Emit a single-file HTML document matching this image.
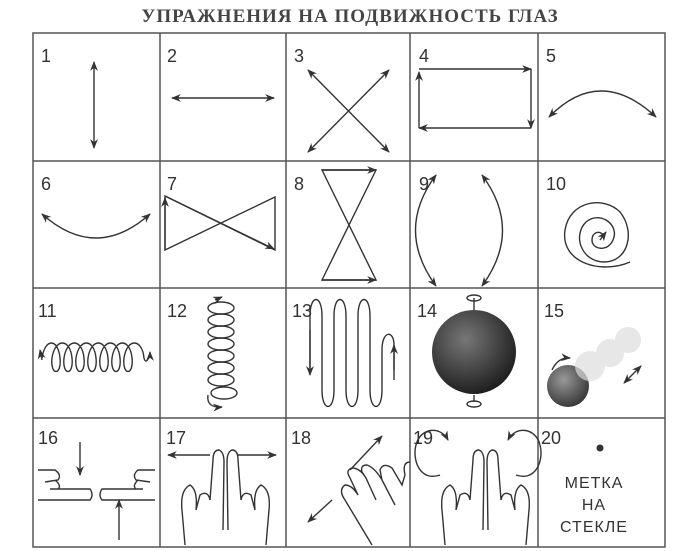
<!DOCTYPE html>
<html><head><meta charset="utf-8"><style>
html,body{margin:0;padding:0;background:#fff;}
svg{display:block;}
</style></head><body>
<svg width="700" height="551" viewBox="0 0 700 551" xmlns="http://www.w3.org/2000/svg">
<defs>
<marker id="a" viewBox="0 0 10 10" refX="9" refY="5" markerWidth="7" markerHeight="7" orient="auto-start-reverse"><path d="M0,1 L10,5 L0,9 L3,5 Z" fill="#333"/></marker>
<radialGradient id="g" cx="0.4" cy="0.35" r="0.7"><stop offset="0" stop-color="#777"/><stop offset="1" stop-color="#1a1a1a"/></radialGradient>
<radialGradient id="g2" cx="0.4" cy="0.35" r="0.7"><stop offset="0" stop-color="#999"/><stop offset="1" stop-color="#333"/></radialGradient>
</defs>
<text x="350" y="22" text-anchor="middle" font-family="Liberation Serif, serif" font-weight="bold" font-size="19" fill="#444" letter-spacing="1">УПРАЖНЕНИЯ НА ПОДВИЖНОСТЬ ГЛАЗ</text>
<g stroke="#555" stroke-width="1.5" fill="none">
<rect x="33" y="33" width="632" height="514"/>
<line x1="160" y1="33" x2="160" y2="547"/><line x1="286" y1="33" x2="286" y2="547"/>
<line x1="410" y1="33" x2="410" y2="547"/><line x1="538" y1="33" x2="538" y2="547"/>
<line x1="33" y1="161" x2="665" y2="161"/><line x1="33" y1="288" x2="665" y2="288"/>
<line x1="33" y1="418" x2="665" y2="418"/>
</g>
<g font-family="Liberation Sans, sans-serif" font-size="18" fill="#333">
<text x="41" y="62">1</text><text x="167" y="62">2</text><text x="294" y="62">3</text><text x="419" y="62">4</text><text x="546" y="62">5</text>
<text x="41" y="190">6</text><text x="167" y="190">7</text><text x="294" y="190">8</text><text x="419" y="190">9</text><text x="546" y="190">10</text>
<text x="38" y="317">11</text><text x="167" y="317">12</text><text x="292" y="317">13</text><text x="417" y="317">14</text><text x="544" y="317">15</text>
<text x="38" y="444">16</text><text x="166" y="444">17</text><text x="291" y="444">18</text><text x="413" y="444">19</text><text x="541" y="444">20</text>
</g>
<g stroke="#333" stroke-width="1.4" fill="none">
<line x1="94" y1="62" x2="94" y2="148" marker-start="url(#a)" marker-end="url(#a)"/>
<line x1="172" y1="98" x2="274" y2="98" marker-start="url(#a)" marker-end="url(#a)"/>
<line x1="308" y1="70" x2="389" y2="152" marker-start="url(#a)" marker-end="url(#a)"/>
<line x1="389" y1="70" x2="308" y2="152" marker-start="url(#a)" marker-end="url(#a)"/>
<line x1="419" y1="69" x2="531" y2="69" marker-end="url(#a)"/>
<line x1="531" y1="69" x2="531" y2="128" marker-end="url(#a)"/>
<line x1="531" y1="128" x2="419" y2="128" marker-end="url(#a)"/>
<line x1="419" y1="128" x2="419" y2="72" marker-end="url(#a)"/>
<path d="M549,117 Q600,65 656,117" marker-start="url(#a)" marker-end="url(#a)"/>
<path d="M42,214 Q96,262 150,214" marker-start="url(#a)" marker-end="url(#a)"/>
<path d="M165,196 L275,250 L275,197 L165,250 Z"/>
<line x1="165" y1="250" x2="165" y2="198" marker-end="url(#a)"/><line x1="165" y1="196" x2="274" y2="249" marker-end="url(#a)"/>
<path d="M322,170 L376,170 L322,280 L376,280 Z"/>
<line x1="322" y1="170" x2="376" y2="170" marker-end="url(#a)"/><line x1="322" y1="280" x2="376" y2="280" marker-end="url(#a)"/>
<path d="M436,175 Q395,230 436,286" marker-start="url(#a)" marker-end="url(#a)"/>
<path d="M482,175 Q523,230 482,286" marker-start="url(#a)" marker-end="url(#a)"/>
<path d="M603,235 C600,230 592,232 592,240 C592,250 608,252 613,240 C620,225 600,210 586,222 C572,236 582,262 604,262 C628,262 636,232 620,212 C604,196 570,200 565,230 C560,262 600,275 630,262" />
<line x1="600" y1="240" x2="606" y2="232" marker-end="url(#a)"/>
<path d="M42,358 C45,338 58,338 60,358 C62,376 50,376 52,358 C55,338 70,338 72,358 C74,376 62,376 64,358 C67,338 82,338 84,358 C86,376 74,376 76,358 C79,338 94,338 96,358 C98,376 86,376 88,358 C91,338 106,338 108,358 C110,376 98,376 100,358 C103,338 118,338 120,358 C122,376 110,376 112,358 C115,338 130,338 132,358 C134,376 122,376 124,358 C127,338 142,338 144,358 C146,366 150,356 150,352" marker-end="url(#a)"/>
<line x1="42" y1="360" x2="40" y2="350" marker-end="url(#a)"/>
<g>
<ellipse cx="221" cy="308" rx="13" ry="6"/><ellipse cx="221" cy="320" rx="13" ry="6"/><ellipse cx="221" cy="332" rx="13" ry="6"/><ellipse cx="221" cy="344" rx="13" ry="6"/><ellipse cx="221" cy="356" rx="13" ry="6"/><ellipse cx="221" cy="368" rx="13" ry="6"/><ellipse cx="221" cy="380" rx="13" ry="6"/><ellipse cx="224" cy="393" rx="13" ry="6"/>
<path d="M208,395 Q206,408 222,407" marker-end="url(#a)"/>
<line x1="215" y1="300" x2="222" y2="297" marker-end="url(#a)"/>
</g>
<path d="M310,316 L310,368 M310,316 C310,294 322,294 322,316 L322,390 C322,412 334,412 334,390 L334,316 C334,294 346,294 346,316 L346,390 C346,412 358,412 358,390 L358,316 C358,294 370,294 370,316 L370,390 C370,412 382,412 382,390 L382,350 C382,330 394,330 394,345 L394,380"/>
<line x1="310" y1="330" x2="310" y2="375" marker-end="url(#a)"/>
<line x1="394" y1="370" x2="394" y2="345" marker-end="url(#a)"/>
<line x1="474" y1="298" x2="474" y2="310"/><line x1="474" y1="395" x2="474" y2="402"/>
<ellipse cx="474" cy="298" rx="7" ry="3"/><ellipse cx="474" cy="404" rx="7" ry="3"/>
<path d="M552,370 Q558,357 570,358" marker-end="url(#a)"/>
<line x1="624" y1="383" x2="641" y2="366" marker-start="url(#a)" marker-end="url(#a)"/>
<line x1="80" y1="442" x2="80" y2="475" marker-end="url(#a)"/>
<line x1="119" y1="540" x2="119" y2="500" marker-end="url(#a)"/>
<path d="M38,500 L90,500 Q94,495 90,489 L50,489 M38,470 L55,470 Q62,475 58,480 L45,482 M55,480 Q62,486 58,489"/>
<path d="M155,500 L102,500 Q98,495 102,489 L143,489 M155,470 L138,470 Q132,475 136,480 L150,482 M138,480 Q132,486 136,489"/>
<line x1="210" y1="455" x2="168" y2="455" marker-end="url(#a)"/>
<line x1="238" y1="455" x2="276" y2="455" marker-end="url(#a)"/>
<path d="M185,545 L182,510 Q180,490 190,485 Q198,490 196,510 L200,495 Q208,490 210,500 L213,460 Q213,450 219,450 Q224,452 224,462 L223,530 M228,530 L227,462 Q227,452 232,450 Q238,450 238,460 L241,500 Q243,490 251,495 L255,510 Q253,490 261,485 Q271,490 269,510 L266,545"/>
<line x1="350" y1="470" x2="382" y2="436" marker-end="url(#a)"/>
<line x1="332" y1="500" x2="308" y2="522" marker-end="url(#a)"/>
<path d="M372,545 L345,500 Q338,490 345,485 Q352,485 358,495 L350,478 Q345,470 352,468 Q360,468 366,478 L376,500 M366,478 L362,472 Q360,465 367,465 Q375,468 382,480 L395,505 M382,480 L380,470 Q383,462 392,468 L402,485 L405,475 Q402,462 410,462"/>
<path d="M440,475 C420,482 412,460 416,445 C420,428 440,425 448,440" marker-end="url(#a)"/>
<path d="M516,475 C536,482 544,460 540,445 C536,428 516,425 508,440" marker-end="url(#a)"/>
<path d="M445,545 L442,510 Q440,490 450,485 Q458,490 456,510 L460,495 Q468,490 470,500 L473,460 Q473,450 479,450 Q484,452 484,462 L483,530 M488,530 L487,462 Q487,452 492,450 Q498,450 498,460 L501,500 Q503,490 511,495 L515,510 Q513,490 521,485 Q531,490 529,510 L526,545"/>
</g>
<circle cx="474" cy="352" r="42" fill="url(#g)"/>
<circle cx="568" cy="386" r="21" fill="url(#g2)"/>
<g fill="#ddd" opacity="0.7"><circle cx="590" cy="366" r="15"/><circle cx="610" cy="353" r="14"/><circle cx="628" cy="340" r="13"/></g>
<circle cx="600" cy="448" r="3.5" fill="#333"/>
<g font-family="Liberation Sans, sans-serif" font-size="16" fill="#333" text-anchor="middle" letter-spacing="1">
<text x="594" y="488">МЕТКА</text><text x="594" y="510">НА</text><text x="594" y="532">СТЕКЛЕ</text>
</g>
</svg>
</body></html>
